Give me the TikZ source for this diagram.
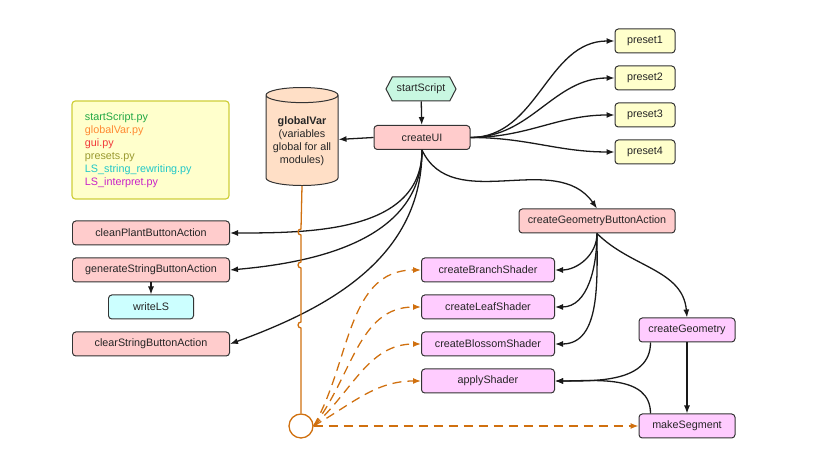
\documentclass[tikz,border=0pt]{standalone}
\usepackage{fontspec}
\setmainfont{Liberation Sans}
\usepackage{tikz}
\usetikzlibrary{arrows.meta, positioning, shapes.geometric, shapes.symbols}

\definecolor{uipink}{HTML}{FFCCCC}
\definecolor{geopink}{HTML}{FFCCFF}
\definecolor{presetyellow}{HTML}{FFFFCC}
\definecolor{startgreen}{HTML}{C8F7E1}
\definecolor{lscyan}{HTML}{CCFFFF}
\definecolor{varpeach}{HTML}{FFDFC6}
\definecolor{varorange}{HTML}{D0700F}
\definecolor{legendborder}{HTML}{CFCF3A}
\definecolor{pystart}{HTML}{22A845}
\definecolor{pyvar}{HTML}{FF8A33}
\definecolor{pygui}{HTML}{F23A3A}
\definecolor{pypreset}{HTML}{9A9A30}
\definecolor{pyrewrite}{HTML}{22C8C8}
\definecolor{pyinterp}{HTML}{C822C8}

\begin{document}
\begin{tikzpicture}[
    x=0.3mm, y=0.3mm,
    node distance=3.6mm and 3.6mm,
    every node/.style={font=\fontsize{9.2}{11.1}\selectfont, text=black!85},
    box/.style={rectangle, rounded corners=1mm, draw=black!80, line width=0.85pt, minimum height=7.2mm, align=center, inner sep=1pt},
    uibox/.style={box, fill=uipink},
    geobox/.style={box, fill=geopink},
    presetbox/.style={box, fill=presetyellow, minimum width=18mm},
    arrow/.style={-{Latex[length=2.4mm, width=1.8mm]}, line width=1.1pt, black!90},
    varline/.style={varorange, line width=1.1pt},
    vararrow/.style={varline, dash pattern=on 2.7mm off 1.8mm, -{Latex[length=2.4mm, width=1.8mm]}}
]
\useasboundingbox (0,0) rectangle (820,470);

% Legend of the modules
\node[rectangle, rounded corners=1mm, draw=legendborder, line width=1pt, fill=presetyellow, minimum width=47.1mm, minimum height=29.4mm, inner xsep=3.9mm, text width=39.3mm, align=left] (legend) at (150.5,320) {%
\textcolor{pystart}{startScript.py}\\
\textcolor{pyvar}{globalVar.py}\\
\textcolor{pygui}{gui.py}\\
\textcolor{pypreset}{presets.py}\\
\textcolor{pyrewrite}{LS\_string\_rewriting.py}\\
\textcolor{pyinterp}{LS\_interpret.py}};

% Top: start and UI
\node[signal, signal to=east and west, signal pointer angle=125, draw=black!80, line width=0.85pt, fill=startgreen, minimum width=21mm, minimum height=7.2mm, inner sep=1pt] (start) at (421,381) {startScript};
\node[uibox, minimum width=28.8mm] (ui) at (422,332.5) {createUI};

% Global variables
\node[cylinder, shape border rotate=90, aspect=0.25, draw=black!80, line width=0.85pt, fill=varpeach, minimum width=21.6mm, minimum height=29.4mm, align=center, inner sep=1pt] (gv) at (302,328.5) {\textbf{globalVar}\\(variables\\global for all\\modules)};

% Presets
\node[presetbox] (p1) at (645,429) {preset1};
\node[presetbox, below=of p1] (p2) {preset2};
\node[presetbox, below=of p2] (p3) {preset3};
\node[presetbox, below=of p3] (p4) {preset4};

% Left: button actions
\node[uibox, minimum width=47.1mm] (clean) at (151,237) {cleanPlantButtonAction};
\node[uibox, minimum width=47.1mm, below=of clean] (gen) {generateStringButtonAction};
\node[box, fill=lscyan, minimum width=25.5mm, below=of gen] (write) {writeLS};
\node[uibox, minimum width=47.1mm, below=of write] (clear) {clearStringButtonAction};

% Right: geometry
\node[uibox, minimum width=46.8mm] (cgba) at (597,249) {createGeometryButtonAction};
\node[geobox, minimum width=39.9mm] (branch) at (488,200) {createBranchShader};
\node[geobox, minimum width=39.9mm, below=of branch] (leaf) {createLeafShader};
\node[geobox, minimum width=39.9mm, below=of leaf] (blossom) {createBlossomShader};
\node[geobox, minimum width=39.9mm, below=of blossom] (apply) {applyShader};
\node[geobox, minimum width=28.8mm] (geom) at (687,140) {createGeometry};
\node[geobox, minimum width=28.8mm] (seg) at (687,44) {makeSegment};

% Access point for globalVar
\node[circle, draw=varorange, line width=1.1pt, minimum size=7.2mm, inner sep=0pt] (acc) at (301,44) {};

% Arrows
\draw[arrow] (start) -- (ui);
\draw[arrow] (ui.west) -- (gv);
\foreach \p in {p1,p2,p3,p4}
    \draw[arrow] (ui.east) to[out=0, in=180] (\p.west);

\draw[arrow] (ui.south) to[out=-90, in=0] (clean.east);
\draw[arrow] (ui.south) to[out=-90, in=5] (gen.east);
\draw[arrow] (ui.south) to[out=-90, in=20] (clear.east);
\draw[arrow] (gen) -- (write);
\draw[arrow] (ui.south) to[out=-65, in=125] (cgba.north);

\foreach \s in {branch,leaf,blossom}
    \draw[arrow] (cgba.south) to[out=-90, in=0] (\s.east);
\draw[arrow] (cgba.south) to[out=-45, in=95] (geom.north);
\draw[arrow] (geom) -- (seg);
\draw[arrow] ([xshift=3.6mm]geom.south west) to[out=-90, in=0] (apply.east);
\draw[arrow] ([xshift=3.6mm]seg.north west) to[out=90, in=0] (apply.east);

% globalVar line with jumps
\draw[varline] (gv.bottom) -- (301,241) arc[start angle=90, end angle=270, radius=0.9mm]
    -- (301,208) arc[start angle=90, end angle=270, radius=0.9mm]
    -- (301,148) arc[start angle=90, end angle=270, radius=0.9mm] -- (acc.north);

% Dashed access arrows
\draw[vararrow] (acc.east) to[out=60, in=180] (branch.west);
\draw[vararrow] (acc.east) to[out=52, in=180] (leaf.west);
\draw[vararrow] (acc.east) to[out=42, in=180] (blossom.west);
\draw[vararrow] (acc.east) to[out=30, in=180] (apply.west);
\draw[vararrow] (acc) -- (seg);

\end{tikzpicture}
\end{document}
